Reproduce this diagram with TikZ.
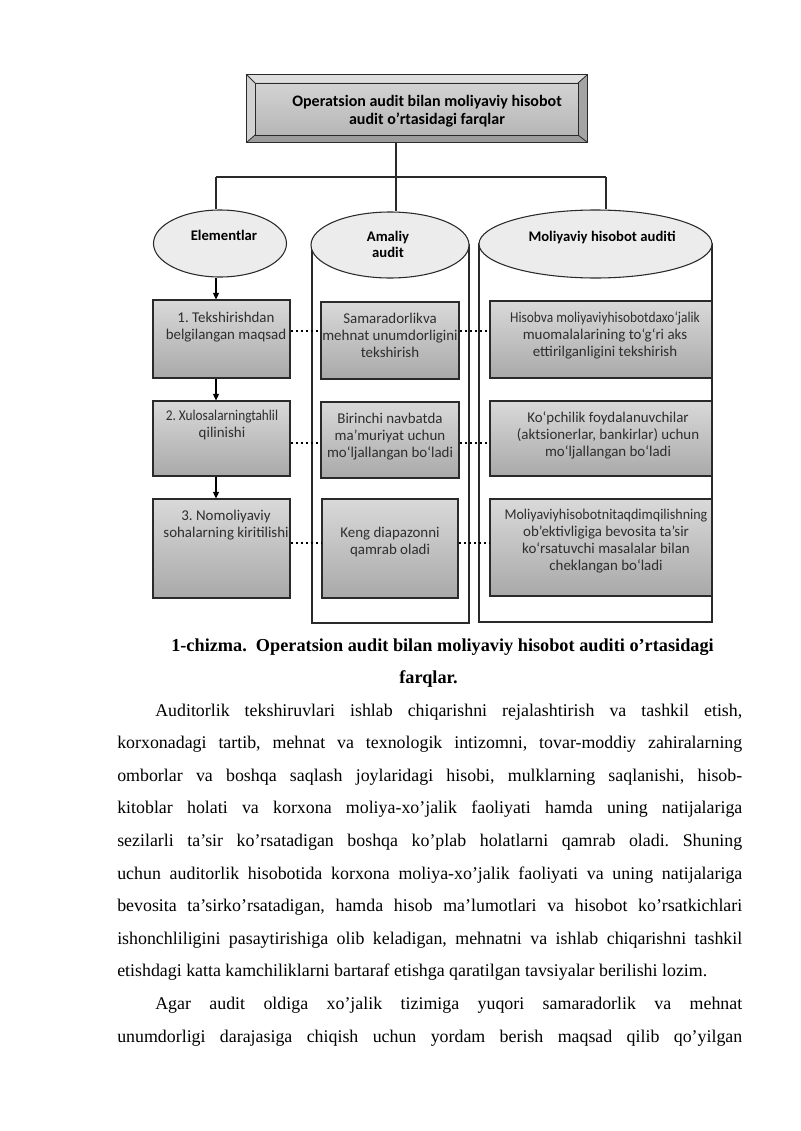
\documentclass[tikz,border=0pt]{standalone}
\usepackage{fontspec}
\setmainfont{Liberation Serif}
\newfontfamily\carl{Carlito}
\usetikzlibrary{arrows.meta,shapes.geometric,fit}
\frenchspacing
\definecolor{boxtop}{HTML}{D9D9D9}
\definecolor{boxbot}{HTML}{A9A9A9}
\definecolor{ellfill}{HTML}{ECECEC}
\definecolor{lineclr}{HTML}{2A2A2A}
\definecolor{txtclr}{HTML}{2E2E2E}
\definecolor{bevlight}{HTML}{DEDEDE}
\definecolor{bevleft}{HTML}{D2D2D2}
\definecolor{bevdark}{HTML}{A4A4A4}
\definecolor{bevbot}{HTML}{9C9C9C}
\definecolor{facetop}{HTML}{D3D3D3}
\definecolor{facebot}{HTML}{B6B6B6}
\newcommand{\squeeze}[2]{\scalebox{#1}[1]{#2}}
\tikzset{
  gbox/.style={draw=lineclr, line width=0.8pt, top color=boxtop, bottom color=boxbot, inner sep=0pt},
  cylbody/.style={draw=lineclr, line width=0.8pt, fill=white, inner sep=0pt},
  ell/.style={ellipse, draw=lineclr, line width=0.8pt, fill=ellfill, inner sep=0pt},
  conn/.style={draw=lineclr, line width=0.8pt},
  arr/.style={draw=black, line width=1pt, -{Triangle[length=5pt,width=4.5pt]}},
  dotline/.style={draw=black, line width=1.7pt, dash pattern=on 1.7pt off 2.1pt},
  btxt/.style={anchor=north, inner sep=0pt, align=center, text=txtclr, font=\carl\fontsize{11.2}{12.75}\selectfont},
  etxt/.style={anchor=north, inner sep=0pt, align=center, text=black, font=\carl\bfseries\fontsize{11}{12}\selectfont},
  body/.style={anchor=base west, inner sep=0pt, font=\fontsize{13.4}{16}\selectfont},
  capt/.style={inner sep=0pt, font=\bfseries\fontsize{13.7}{16}\selectfont}
}
\begin{document}
\begin{tikzpicture}[x=0.75pt,y=-0.75pt]
\useasboundingbox[fill=white] (0,0) rectangle (800,1131);

% ---- title box with bevel ----
\node[fit={(247,75) (587,142)}, inner sep=0pt] (title) {};
\fill[bevlight] (247,75) -- (587,75) -- (578,83) -- (255,83) -- cycle;
\fill[bevleft] (247,75) -- (255,83) -- (255,135) -- (247,142) -- cycle;
\fill[bevdark] (587,75) -- (587,142) -- (578,135) -- (578,83) -- cycle;
\fill[bevbot] (247,142) -- (587,142) -- (578,135) -- (255,135) -- cycle;
\shade[top color=facetop, bottom color=facebot] (255,83) rectangle (578,135);
\draw[lineclr, line width=0.6pt] (255,83) rectangle (578,135);
\draw[lineclr, line width=0.6pt] (247,75) -- (255,83) (587,75) -- (578,83) (247,142) -- (255,135) (587,142) -- (578,135);
\draw[lineclr, line width=0.9pt] (title.south west) rectangle (title.north east);
\node[anchor=north, inner sep=0pt, align=center, font=\carl\bfseries\fontsize{12}{13.5}\selectfont, text=black] (titletext) at (427,95)
  {Operatsion audit bilan moliyaviy hisobot\\audit o’rtasidagi farqlar};

% ---- cylinder bodies ----
\node[cylbody, fit={(312,245) (469,623)}] (cyl2) {};
\node[cylbody, fit={(479,244) (712,622)}] (cyl3) {};

% ---- ellipses ----
\node[ell, minimum width=99.75pt, minimum height=50.25pt] (E1) at (220,243.5) {};
\node[ell, minimum width=118.5pt, minimum height=49.5pt] (E2) at (390,245) {};
\node[ell, minimum width=174.75pt, minimum height=51pt] (E3) at (595.5,244) {};
\node[etxt] (E1t) at (224,229.5) {Elementlar};
\node[etxt] (E2t) at (388,231) {Amaliy\\audit};
\node[etxt] (E3t) at (602,230.5) {Moliyaviy hisobot auditi};

% ---- connectors from title ----
\coordinate (j0) at (396,177);
\coordinate (jL) at (216,177);
\coordinate (jR) at (606,177);
\draw[conn] (title.south -| j0) -- (j0);
\draw[conn] (jL) -- (jR);
\draw[conn] (jL) -- (jL |- E1.north);
\draw[conn] (j0) -- (j0 |- E2.north);
\draw[conn] (jR) -- (jR |- E3.north);

% ---- boxes ----
\node[gbox, fit={(153,300) (290,378)}] (L1) {};
\node[gbox, fit={(153,401) (290,476)}] (L2) {};
\node[gbox, fit={(153,499) (290,598)}] (L3) {};
\node[gbox, fit={(321,302) (459,379)}] (M1) {};
\node[gbox, fit={(321,402) (459,478)}] (M2) {};
\node[gbox, fit={(322,499) (458,598)}] (M3) {};
\node[gbox, fit={(490,301) (712,378)}] (R1) {};
\node[gbox, fit={(490,401) (712,476)}] (R2) {};
\node[gbox, fit={(490,499) (712,596)}] (R3) {};

\node[btxt] (L1t) at (226,311.5) {1. Tekshirishdan\\belgilangan maqsad};
\node[btxt] (L2t) at (222,409.5) {\squeeze{0.89}{2. Xulosalarningtahlil}\\qilinishi};
\node[btxt] (L3t) at (226,509.5) {3. Nomoliyaviy\\sohalarning kiritilishi};
\node[btxt] (M1t) at (390,312.5) {Samaradorlikva\\mehnat unumdorligini\\tekshirish};
\node[btxt] (M2t) at (390,412.5) {Birinchi navbatda\\ma’muriyat uchun\\mo‘ljallangan bo‘ladi};
\node[btxt] (M3t) at (390,526.5) {Keng diapazonni\\qamrab oladi};
\node[btxt] (R1t) at (605,311.5) {\squeeze{0.9}{Hisobva moliyaviyhisobotdaxo‘jalik}\\muomalalarining to‘g‘ri aks\\ettirilganligini tekshirish};
\node[btxt] (R2t) at (608,411.5) {Ko‘pchilik foydalanuvchilar\\(aktsionerlar, bankirlar) uchun\\mo‘ljallangan bo‘ladi};
\node[btxt] (R3t) at (606,508.5) {\squeeze{0.94}{Moliyaviyhisobotnitaqdimqilishning}\\ob’ektivligiga bevosita ta’sir\\ko‘rsatuvchi masalalar bilan\\cheklangan bo‘ladi};

% ---- arrows ----
\draw[arr] (jL |- E1.south) -- (jL |- L1.north);
\draw[arr] (L1.south -| jL) -- (L2.north -| jL);
\draw[arr] (L2.south -| jL) -- (L3.north -| jL);

% ---- dotted links ----
\coordinate (d1) at (300,331);
\coordinate (d2) at (300,443);
\coordinate (d3) at (300,543);
\draw[dotline] (L1.east |- d1) -- (M1.west |- d1);
\draw[dotline] (M1.east |- d1) -- (R1.west |- d1);
\draw[dotline] (L2.east |- d2) -- (M2.west |- d2);
\draw[dotline] (M2.east |- d2) -- (R2.west |- d2);
\draw[dotline] (L3.east |- d3) -- (M3.west |- d3);
\draw[dotline] (M3.east |- d3) -- (R3.west |- d3);

% ---- caption ----
\node[capt, anchor=base west] (cap1) at (171,651) {1-chizma.\ \ Operatsion audit bilan moliyaviy hisobot auditi o’rtasidagi};
\node[capt, anchor=base] (cap2) at (428.5,683) {farqlar.};

% ---- body text ----
\node[body] (b1) at (155,716) {\makebox[440.25pt][s]{Auditorlik tekshiruvlari ishlab chiqarishni rejalashtirish va tashkil etish,}};
\node[body] (b2) at (117,748.6) {\makebox[468.75pt][s]{korxonadagi tartib, mehnat va texnologik intizomni, tovar-moddiy zahiralarning}};
\node[body] (b3) at (117,781.2) {\makebox[468.75pt][s]{omborlar va boshqa saqlash joylaridagi hisobi, mulklarning saqlanishi, hisob-}};
\node[body] (b4) at (117,813.8) {\makebox[468.75pt][s]{kitoblar holati va korxona moliya-xo’jalik faoliyati hamda uning natijalariga}};
\node[body] (b5) at (117,846.4) {\makebox[468.75pt][s]{sezilarli ta’sir ko’rsatadigan boshqa ko’plab holatlarni qamrab oladi. Shuning}};
\node[body] (b6) at (117,879) {\makebox[468.75pt][s]{uchun auditorlik hisobotida korxona moliya-xo’jalik faoliyati va uning natijalariga}};
\node[body] (b7) at (117,911.6) {\makebox[468.75pt][s]{bevosita ta’sirko’rsatadigan, hamda hisob ma’lumotlari va hisobot ko’rsatkichlari}};
\node[body] (b8) at (117,944.2) {\makebox[468.75pt][s]{ishonchliligini pasaytirishiga olib keladigan, mehnatni va ishlab chiqarishni tashkil}};
\node[body] (b9) at (117,976.8) {etishdagi katta kamchiliklarni bartaraf etishga qaratilgan tavsiyalar berilishi lozim.};
\node[body] (b10) at (155,1009.4) {\makebox[440.25pt][s]{Agar audit oldiga xo’jalik tizimiga yuqori samaradorlik va mehnat}};
\node[body] (b11) at (117,1042) {\makebox[468.75pt][s]{unumdorligi darajasiga chiqish uchun yordam berish maqsad qilib qo’yilgan}};
\end{tikzpicture}
\end{document}
